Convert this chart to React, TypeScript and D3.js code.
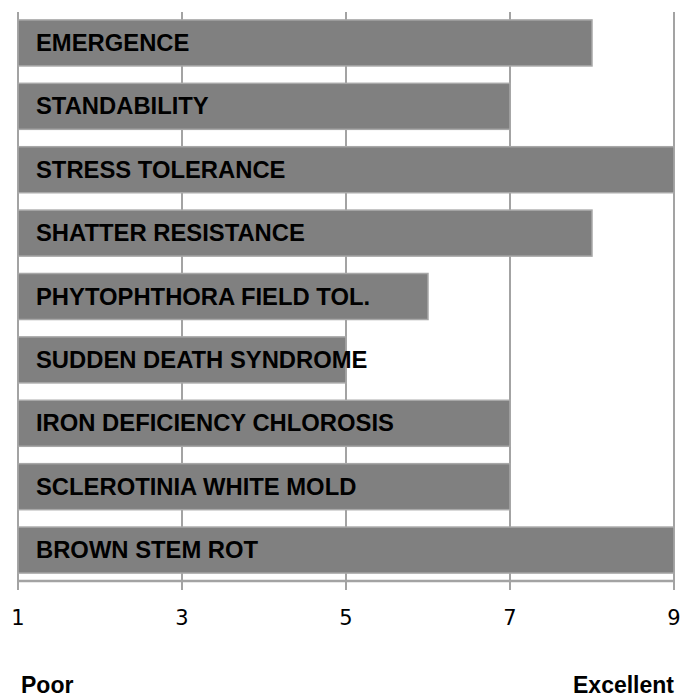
import { scaleBand, scaleLinear } from "d3";

const traits = [
  "EMERGENCE",
  "STANDABILITY",
  "STRESS TOLERANCE",
  "SHATTER RESISTANCE",
  "PHYTOPHTHORA FIELD TOL.",
  "SUDDEN DEATH SYNDROME",
  "IRON DEFICIENCY CHLOROSIS",
  "SCLEROTINIA WHITE MOLD",
  "BROWN STEM ROT",
];
const scores = [8, 7, 9, 8, 6, 5, 7, 7, 9];
const xTicks = [1, 3, 5, 7, 9];

export default function App() {
  const width = 681;
  const height = 698;
  const left = 18;
  const right = 674;
  const top = 12;
  const axisY = 581;

  const x = scaleLinear().domain([1, 9]).range([left, right]);
  const y = scaleBand<string>()
    .domain(traits)
    .range([top, axisY])
    .paddingInner(0.274)
    .paddingOuter(0.125);

  const grid = "#a3a3a3";
  const font = "'Liberation Sans', Arial, sans-serif";

  return (
    <svg
      width={width}
      height={height}
      style={{ position: "absolute", left: 0, top: 0, background: "#fff" }}
    >
      {/* vertical grid lines */}
      {xTicks.map((t) => (
        <line
          key={t}
          x1={x(t)}
          x2={x(t)}
          y1={top}
          y2={axisY + 9}
          stroke={grid}
          strokeWidth={2}
        />
      ))}

      {/* bars */}
      {traits.map((name, i) => (
        <rect
          key={name}
          x={x(1)}
          y={y(name)}
          width={x(scores[i]) - x(1)}
          height={y.bandwidth()}
          fill="#808080"
          stroke="#a8a8a8"
          strokeWidth={1.5}
        />
      ))}

      {/* category labels */}
      {traits.map((name) => (
        <text
          key={name}
          x={36}
          y={(y(name) ?? 0) + y.bandwidth() / 2 + 8}
          fontFamily={font}
          fontWeight="bold"
          fontSize={23.8}
          fill="#000"
        >
          {name}
        </text>
      ))}

      {/* x axis */}
      <line x1={left} x2={right} y1={axisY} y2={axisY} stroke={grid} strokeWidth={2.5} />
      {xTicks.map((t) => (
        <text
          key={t}
          x={x(t)}
          y={625}
          textAnchor="middle"
          fontFamily="'DejaVu Sans', sans-serif"
          fontSize={21}
          fill="#000"
        >
          {t}
        </text>
      ))}

      <text x={21} y={693} fontFamily={font} fontWeight="bold" fontSize={23} fill="#000">
        Poor
      </text>
      <text
        x={674}
        y={693}
        textAnchor="end"
        fontFamily={font}
        fontWeight="bold"
        fontSize={23}
        fill="#000"
      >
        Excellent
      </text>
    </svg>
  );
}
